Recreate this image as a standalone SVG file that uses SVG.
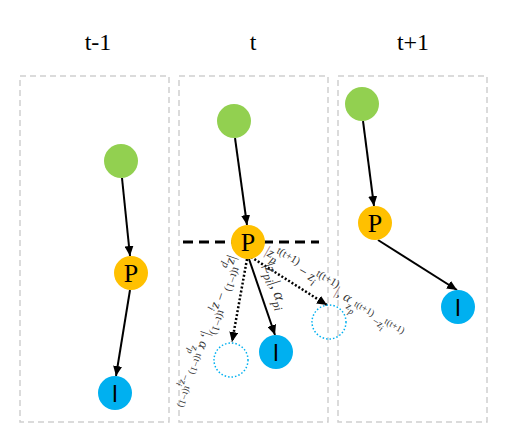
<svg xmlns="http://www.w3.org/2000/svg" width="515" height="446" viewBox="0 0 515 446">
<defs>
<style>
.panel{fill:none;stroke:#CFCFCF;stroke-width:1.5;stroke-dasharray:6 4}
.title{font-family:"Liberation Serif",serif;font-size:24px;fill:#000;text-anchor:middle}
.arr{stroke:#000;stroke-width:2;fill:none;marker-end:url(#ah)}
.dot{stroke:#000;stroke-width:2.5;fill:none;stroke-dasharray:2 2;marker-end:url(#ah)}
.g{fill:#92D050}
.p{fill:#FFC000}
.l{fill:#00B0F0}
.ghost{fill:none;stroke:#00B0F0;stroke-width:1.5;stroke-dasharray:1.5 2}
.pt{font-family:"Liberation Serif",serif;font-size:26px;fill:#000;text-anchor:middle}
.lt{font-family:"Liberation Sans",sans-serif;font-size:24px;fill:#000;text-anchor:middle}
.m{font-family:"Liberation Serif",serif;fill:#333}
.i{font-style:italic}
.bar{fill:#9A6E6E}
</style>
<marker id="ah" markerWidth="10" markerHeight="9" refX="10" refY="4.5" orient="auto" markerUnits="userSpaceOnUse">
<path d="M0,0 L10,4.5 L0,9 z" fill="#000"/>
</marker>
</defs>

<g id="titles">
<text class="title" x="98" y="50">t-1</text>
<text class="title" x="253" y="50">t</text>
<text class="title" x="413" y="50">t+1</text>
</g>

<g id="panels">
<rect class="panel" x="20" y="76" width="149" height="346"/>
<rect class="panel" x="179" y="76" width="149" height="346"/>
<rect class="panel" x="338" y="76" width="149" height="346"/>
</g>

<g id="divider">
<line x1="183" y1="242" x2="319" y2="242" stroke="#000" stroke-width="3" stroke-dasharray="10 6"/>
</g>

<g id="connectors">
<line class="arr" x1="122" y1="178" x2="130" y2="256"/>
<line class="arr" x1="130" y1="290" x2="116" y2="376"/>
<line class="arr" x1="235" y1="138" x2="247" y2="225"/>
<line class="arr" x1="249" y1="259" x2="275" y2="335"/>
<line class="dot" x1="247" y1="259" x2="232" y2="342"/>
<line class="dot" x1="251" y1="257" x2="327" y2="305"/>
<line class="arr" x1="363" y1="121" x2="374" y2="206"/>
<line class="arr" x1="378" y1="240" x2="457" y2="290"/>
</g>

<g id="labels">
<text class="m" transform="translate(264,265) rotate(72)" font-size="16"><tspan>|</tspan><tspan class="i">z</tspan><tspan class="i" font-size="12" dy="4">pi</tspan><tspan dy="-4">|, </tspan><tspan class="i">α</tspan><tspan class="i" font-size="12" dy="4">pi</tspan></text>
<text class="m" transform="translate(264,254) rotate(30)" font-size="14"><tspan class="bar">|</tspan><tspan class="i">z</tspan><tspan class="i" font-size="11" dy="4">p</tspan><tspan font-size="11" dx="-4" dy="-11">t(t+1)</tspan><tspan dy="7"> − </tspan><tspan class="i">z</tspan><tspan class="i" font-size="11" dy="4">i</tspan><tspan font-size="11" dx="-3" dy="-11">t(t+1)</tspan><tspan class="bar" dy="7">|</tspan><tspan>, </tspan><tspan class="i">α</tspan><tspan class="i" font-size="10.5" dy="6">z</tspan><tspan class="i" font-size="9" dy="3">p</tspan><tspan font-size="9.5" dx="-3" dy="-9">t(t+1)</tspan><tspan font-size="10.5" dy="6"> −</tspan><tspan class="i" font-size="10.5">z</tspan><tspan class="i" font-size="9" dy="3">i</tspan><tspan font-size="9.5" dx="-2" dy="-9">t(t+1)</tspan></text>
<text class="m" transform="translate(230,255) rotate(109)" font-size="14"><tspan>|</tspan><tspan class="i">z</tspan><tspan class="i" font-size="11" dy="4">p</tspan><tspan font-size="11" dx="-4" dy="-11">t(t−1)</tspan><tspan dy="7"> − </tspan><tspan class="i">z</tspan><tspan class="i" font-size="11" dy="4">i</tspan><tspan font-size="11" dx="-3" dy="-11">t(t−1)</tspan><tspan dy="7">|</tspan><tspan>, </tspan><tspan class="i">α</tspan><tspan class="i" font-size="10.5" dy="6">z</tspan><tspan class="i" font-size="9" dy="3">p</tspan><tspan font-size="9.5" dx="-3" dy="-9">t(t−1)</tspan><tspan font-size="10.5" dy="6"> −</tspan><tspan class="i" font-size="10.5">z</tspan><tspan class="i" font-size="9" dy="3">i</tspan><tspan font-size="9.5" dx="-2" dy="-9">t(t−1)</tspan></text>
</g>

<g id="n1-root"><circle class="g" cx="121" cy="161" r="17"/></g>
<g id="n1-P"><circle class="p" cx="131" cy="273" r="17"/><text class="pt" x="131" y="282">P</text></g>
<g id="n1-l"><circle class="l" cx="115" cy="393" r="17"/><text class="lt" x="115" y="402">l</text></g>

<g id="n2-root"><circle class="g" cx="234" cy="121" r="17"/></g>
<g id="n2-P"><circle class="p" cx="248" cy="242" r="17"/><text class="pt" x="248" y="251">P</text></g>
<g id="n2-l"><circle class="l" cx="276" cy="352" r="17"/><text class="lt" x="276" y="361">l</text></g>
<g id="n2-ghost-prev"><circle class="ghost" cx="231" cy="360" r="17"/></g>
<g id="n2-ghost-next"><circle class="ghost" cx="329" cy="322" r="17"/></g>

<g id="n3-root"><circle class="g" cx="362" cy="104" r="17"/></g>
<g id="n3-P"><circle class="p" cx="375" cy="223" r="17"/><text class="pt" x="375" y="232">P</text></g>
<g id="n3-l"><circle class="l" cx="458" cy="307" r="17"/><text class="lt" x="458" y="316">l</text></g>
</svg>
